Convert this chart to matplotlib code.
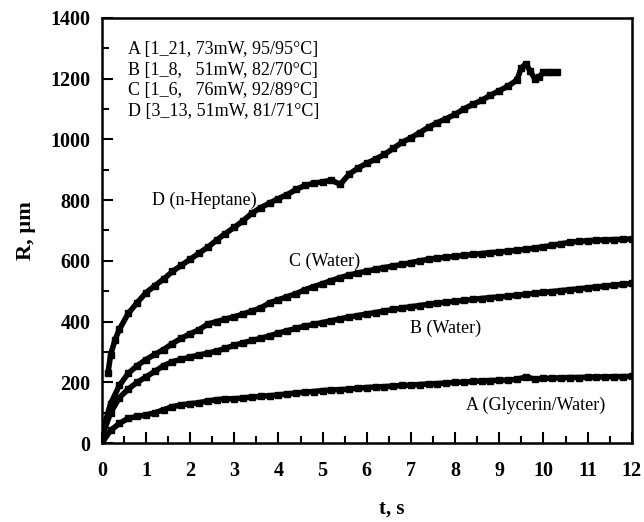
import numpy as np
import matplotlib.pyplot as plt

plt.rcParams['font.family'] = ['Liberation Serif', 'DejaVu Serif']

# common sampling times for A, B, C (s)
t = np.round(np.arange(0, 12.01, 0.2), 1)

r_a = [0, 42, 65, 82, 88, 93, 100, 110, 120, 126,
       130, 133, 139, 143, 146, 146, 149, 152, 154, 156,
       159, 162, 165, 168, 170, 173, 175, 176, 178, 181,
       183, 185, 186, 188, 190, 191, 193, 195, 196, 198,
       200, 201, 203, 205, 206, 207, 208, 210, 218, 211,
       213, 214, 215, 216, 216, 217, 218, 218, 219, 219,
       220]

r_b = [20, 100, 150, 178, 200, 218, 236, 255, 268, 276,
       283, 290, 296, 303, 312, 322, 330, 338, 345, 353,
       362, 370, 378, 385, 391, 397, 403, 409, 415, 420,
       425, 430, 435, 440, 445, 449, 453, 457, 461, 464,
       467, 470, 473, 476, 479, 481, 484, 487, 490, 493,
       496, 499, 502, 505, 508, 511, 514, 517, 520, 523,
       526]

r_c = [30, 130, 190, 230, 255, 275, 292, 308, 328, 345,
       360, 373, 392, 400, 408, 416, 425, 435, 445, 462,
       472, 482, 492, 505, 515, 525, 535, 545, 553, 560,
       566, 572, 578, 583, 588, 594, 600, 605, 609, 612,
       615, 618, 621, 624, 627, 629, 632, 635, 638, 642,
       646, 651, 656, 661, 664, 666, 668, 669, 670, 671,
       672]

t_d = [0.14, 0.2, 0.3, 0.4, 0.6, 0.8, 1.0, 1.2, 1.4, 1.6,
       1.8, 2.0, 2.2, 2.4, 2.6, 2.8, 3.0, 3.2, 3.4, 3.6,
       3.8, 4.0, 4.2, 4.4, 4.6, 4.8, 5.0, 5.2, 5.4, 5.6,
       5.8, 6.0, 6.2, 6.4, 6.6, 6.8, 7.0, 7.2, 7.4, 7.6,
       7.8, 8.0, 8.2, 8.4, 8.6, 8.8, 9.0, 9.2, 9.4, 9.5,
       9.6, 9.7, 9.8, 9.9, 10.0, 10.1, 10.2, 10.3]
r_d = [230, 290, 340, 375, 427, 462, 495, 518, 540, 565,
       585, 605, 625, 645, 668, 690, 710, 732, 757, 775,
       790, 805, 818, 835, 848, 855, 860, 865, 852, 885,
       905, 921, 935, 950, 970, 990, 1005, 1022, 1040, 1055,
       1068, 1082, 1100, 1115, 1128, 1145, 1160, 1175, 1195, 1235,
       1248, 1225, 1200, 1205, 1220, 1222, 1222, 1222]

legend_lines = ['A [1_21, 73mW, 95/95\u00b0C]',
                'B [1_8,   51mW, 82/70\u00b0C]',
                'C [1_6,   76mW, 92/89\u00b0C]',
                'D [3_13, 51mW, 81/71\u00b0C]']

fig = plt.figure(figsize=(6.44, 5.22), dpi=100)
ax = fig.add_axes([0.158, 0.151, 0.823, 0.815])

for x, y in [(t, r_a), (t, r_b), (t, r_c), (t_d, r_d)]:
    ax.plot(x, y, color='black', lw=4, marker='s', ms=5,
            mfc='black', mec='black', mew=1.0)

ax.set_xlim(0, 12)
ax.set_ylim(0, 1400)
ax.set_xticks(range(0, 13))
ax.set_yticks(range(0, 1401, 200))
ax.set_xticks(np.arange(0.5, 12, 1), minor=True)
ax.set_yticks(range(100, 1400, 200), minor=True)
ax.tick_params(which='major', direction='in', length=8, width=1.5,
               labelsize=14.5)
ax.tick_params(axis='x', which='major', pad=13)
ax.tick_params(axis='y', which='major', pad=8)
ax.tick_params(which='minor', direction='in', length=5, width=1.5)
for lab in ax.get_xticklabels() + ax.get_yticklabels():
    lab.set_fontweight('bold')
for s in ax.spines.values():
    s.set_linewidth(1.8)

ax.set_xlabel('t, s', fontsize=15, fontweight='bold')
ax.xaxis.set_label_coords(0.547, -0.13)
ax.set_ylabel('R, \u00b5m', fontsize=16, fontweight='bold')
ax.yaxis.set_label_coords(-0.125, 0.5)

for i, s in enumerate(legend_lines):
    ax.text(0.6, 1297 - i * 69, s, fontsize=13, va='center', ha='left')

ax.text(1.13, 800, 'D (n-Heptane)', fontsize=13, va='center')
ax.text(4.25, 600, 'C (Water)', fontsize=13, va='center')
ax.text(6.97, 378, 'B (Water)', fontsize=13, va='center')
ax.text(8.24, 125, 'A (Glycerin/Water)', fontsize=13, va='center')

fig.savefig('out.png', dpi=100)
